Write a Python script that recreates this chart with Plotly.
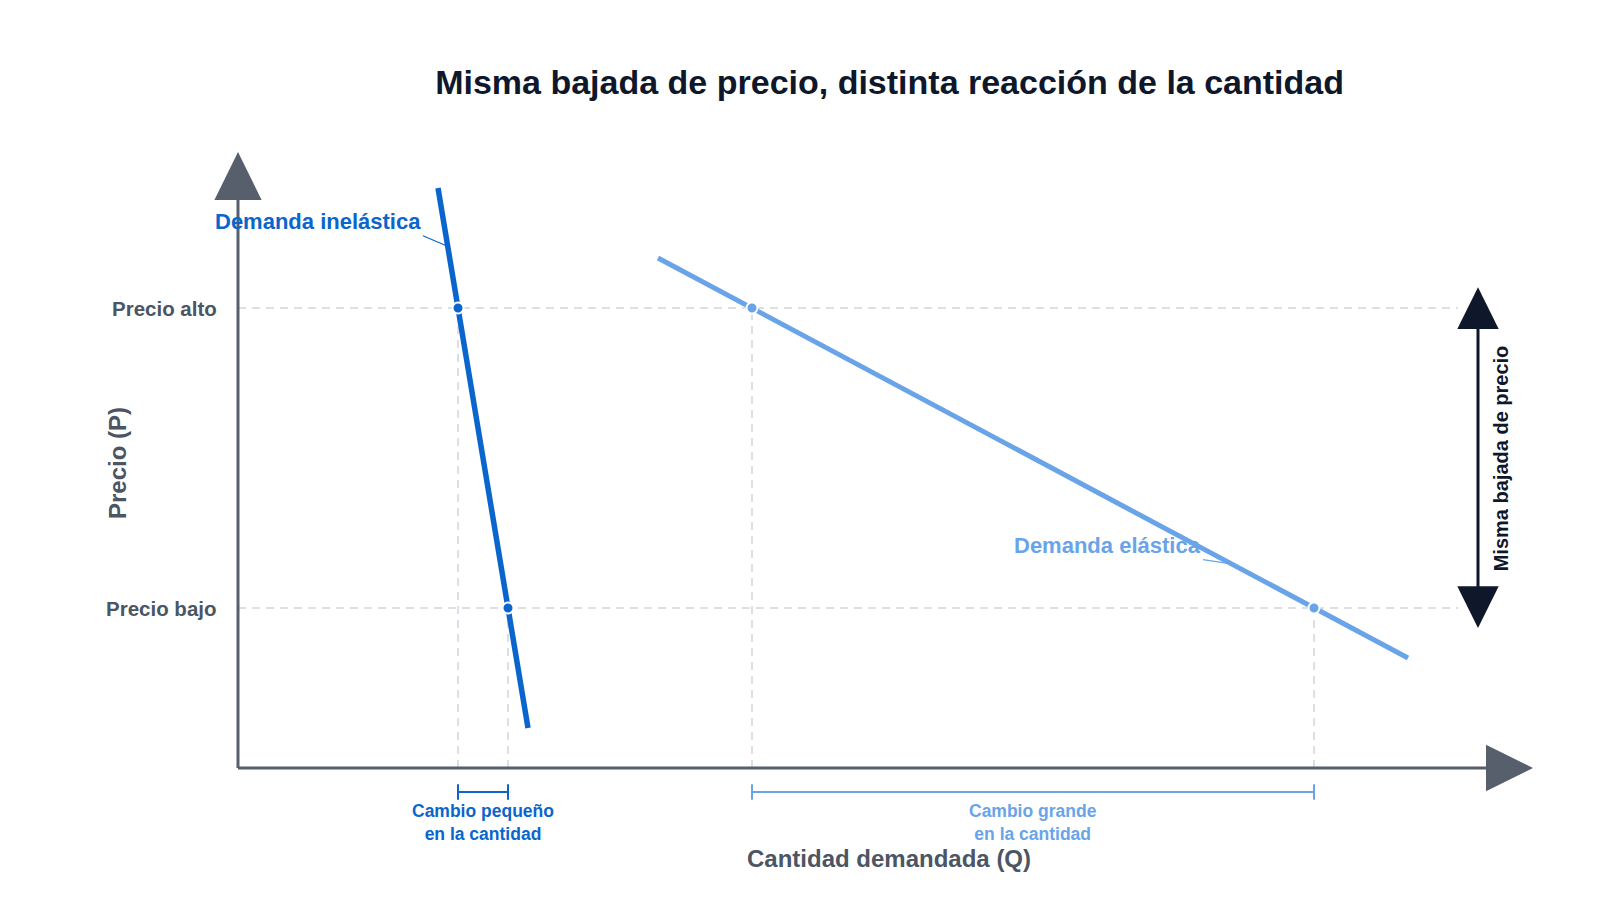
import plotly.graph_objects as go

# Precios de referencia (eje P) y sus etiquetas
precios = [46, 16]
etiquetas_precio = ["Precio alto", "Precio bajo"]

# Curvas de demanda: extremos y puntos a precio alto / bajo
inel_q = [20, 22, 27, 29]
inel_p = [58, 46, 16, 4]
elas_q = [42, 51.4, 107.6, 117]
elas_p = [51, 46, 16, 11]

# cantidades demandadas en cada precio (alto, bajo)
q_inel = [22, 27]
q_elas = [51.4, 107.6]

AZUL = "#0a66cc"
AZUL_CLARO = "#6aa4e8"
GRIS = "#575f6d"
GRIS_TXT = "#4b5563"
NAVY = "#0f172a"
GUIA = "#d1d5db"
FUENTE = "Liberation Sans, Arial, sans-serif"

fig = go.Figure()

# curvas
fig.add_trace(go.Scatter(x=inel_q, y=inel_p, mode="lines",
                         line=dict(color=AZUL, width=5.5), hoverinfo="skip"))
fig.add_trace(go.Scatter(x=elas_q, y=elas_p, mode="lines",
                         line=dict(color=AZUL_CLARO, width=5), hoverinfo="skip"))

# puntos
fig.add_trace(go.Scatter(x=q_inel, y=precios, mode="markers",
                         marker=dict(color=AZUL, size=11, line=dict(color="white", width=2))))
fig.add_trace(go.Scatter(x=q_elas, y=precios, mode="markers",
                         marker=dict(color=AZUL_CLARO, size=11, line=dict(color="white", width=2))))

# llaves del cambio en la cantidad
y_llave = -2.4
for qs, col in [(q_inel, AZUL), (q_elas, AZUL_CLARO)]:
    fig.add_trace(go.Scatter(x=qs, y=[y_llave, y_llave], mode="lines+markers",
                             line=dict(color=col, width=2),
                             marker=dict(symbol="line-ns-open", size=11,
                                         line=dict(color=col, width=2)),
                             hoverinfo="skip"))

shapes = []
# guias punteadas
x_fin_guia = 122
for p in precios:
    shapes.append(dict(type="line", x0=0, x1=x_fin_guia, y0=p, y1=p, layer="below",
                       line=dict(color=GUIA, width=1.5, dash="8px,6px")))
for q, p in zip(q_inel + q_elas, precios + precios):
    shapes.append(dict(type="line", x0=q, x1=q, y0=0, y1=p, layer="below",
                       line=dict(color=GUIA, width=1.5, dash="8px,6px")))

# ejes con flecha
shapes.append(dict(type="line", x0=0, x1=0, y0=0, y1=56.8, line=dict(color=GRIS, width=3)))
shapes.append(dict(type="line", x0=0, x1=124.8, y0=0, y1=0, line=dict(color=GRIS, width=3)))
shapes.append(dict(type="path", path="M -2.36,56.8 L 0,61.6 L 2.36,56.8 Z",
                   fillcolor=GRIS, line=dict(width=0)))
shapes.append(dict(type="path", path="M 124.8,-2.33 L 129.5,0 L 124.8,2.33 Z",
                   fillcolor=GRIS, line=dict(width=0)))

# flecha doble: misma bajada de precio
xa, cab, ancho = 124, 4.17, 2.07
p_alto, p_bajo = precios
shapes.append(dict(type="line", x0=xa, x1=xa, y0=p_bajo + 2.07, y1=p_alto - 2.1,
                   line=dict(color=NAVY, width=3)))
shapes.append(dict(type="path",
                   path=f"M {xa-ancho},{p_alto+2.07-cab} L {xa},{p_alto+2.07} L {xa+ancho},{p_alto+2.07-cab} Z",
                   fillcolor=NAVY, line=dict(width=0)))
shapes.append(dict(type="path",
                   path=f"M {xa-ancho},{p_bajo-2+cab} L {xa},{p_bajo-2} L {xa+ancho},{p_bajo-2+cab} Z",
                   fillcolor=NAVY, line=dict(width=0)))

annotations = []
# etiquetas de precio
for p, t in zip(precios, etiquetas_precio):
    annotations.append(dict(x=-1.9, y=p, text=t, showarrow=False, xanchor="right",
                            font=dict(size=20.5, color=GRIS_TXT, family=FUENTE, weight="bold")))

# etiquetas de las curvas con linea guia
annotations.append(dict(x=20.9, y=52.2, ax=18.5, ay=53.23, axref="x", ayref="y",
                        text="Demanda inelástica", showarrow=True, arrowhead=0,
                        arrowwidth=1.2, arrowcolor=AZUL, standoff=2,
                        xanchor="right", yanchor="bottom",
                        font=dict(size=22, color=AZUL, family=FUENTE, weight="bold")))
annotations.append(dict(x=99.33, y=20.4, ax=96.5, ay=20.83, axref="x", ayref="y",
                        text="Demanda elástica", showarrow=True, arrowhead=0,
                        arrowwidth=1.2, arrowcolor=AZUL_CLARO, standoff=2,
                        xanchor="right", yanchor="bottom",
                        font=dict(size=22, color=AZUL_CLARO, family=FUENTE, weight="bold")))

# textos de las llaves
annotations.append(dict(x=sum(q_inel) / 2, y=-5.4, text="Cambio pequeño<br>en la cantidad",
                        showarrow=False, font=dict(size=17.5, color=AZUL, family=FUENTE, weight="bold")))
annotations.append(dict(x=sum(q_elas) / 2, y=-5.4, text="Cambio grande<br>en la cantidad",
                        showarrow=False, font=dict(size=17.5, color=AZUL_CLARO, family=FUENTE, weight="bold")))

# texto de la flecha doble
annotations.append(dict(x=126.33, y=31, text="Misma bajada de precio", textangle=-90,
                        showarrow=False, font=dict(size=20, color=NAVY, family=FUENTE, weight="bold")))

# titulos de los ejes
annotations.append(dict(x=65.05, y=-9.0, text="Cantidad demandada (Q)", showarrow=False,
                        font=dict(size=24, color=GRIS_TXT, family=FUENTE, weight="bold")))
annotations.append(dict(x=-12.1, y=30.5, text="Precio (P)", textangle=-90, showarrow=False,
                        font=dict(size=24, color=GRIS_TXT, family=FUENTE, weight="bold")))

fig.update_layout(
    width=1600, height=900,
    margin=dict(l=0, r=0, t=0, b=0),
    paper_bgcolor="white", plot_bgcolor="white",
    showlegend=False,
    title=dict(text="<b>Misma bajada de precio, distinta reacción de la cantidad</b>",
               x=0.551, xanchor="center", y=1 - 74.5 / 900, yanchor="middle",
               font=dict(size=34, color=NAVY, family=FUENTE)),
    xaxis=dict(range=[-23, 137], visible=False, fixedrange=True),
    yaxis=dict(range=[-14, 76], visible=False, fixedrange=True),
    shapes=shapes,
    annotations=annotations,
)

fig.write_html("out.html")
